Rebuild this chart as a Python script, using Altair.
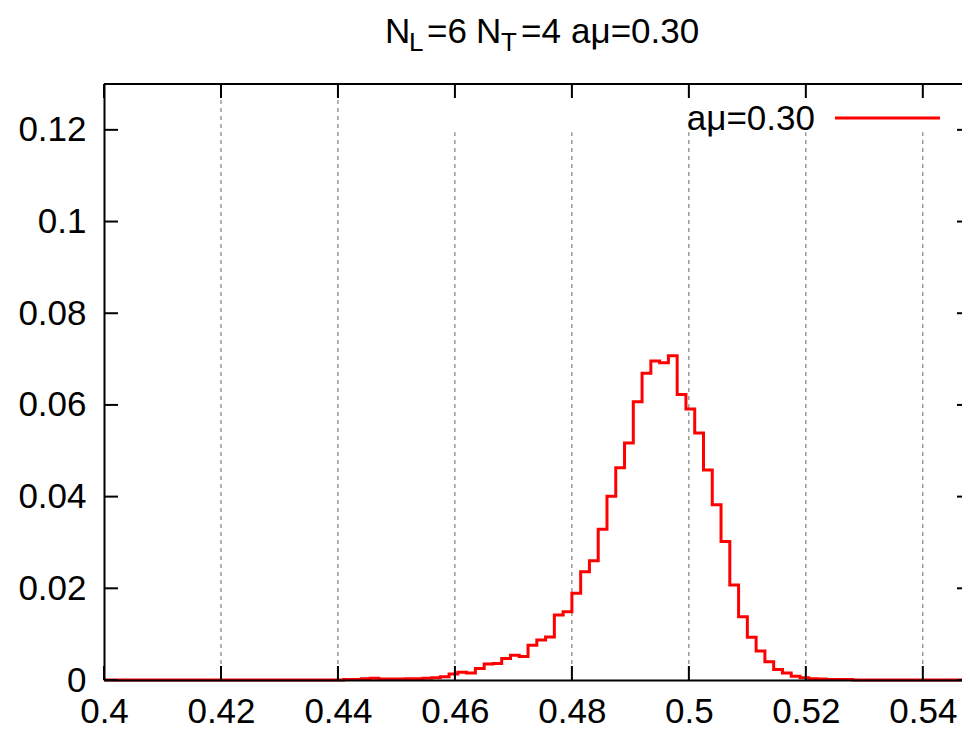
import altair as alt
import pandas as pd

# ---------------- data ----------------
# left edges of the histogram bins (width 0.0015); first/last entries pad the zero baseline
bin_edges = [
    0.4000, 0.4395, 0.4410, 0.4425, 0.4440, 0.4455, 0.4470, 0.4485, 0.4500, 0.4515,
    0.4530, 0.4545, 0.4560, 0.4575, 0.4590, 0.4605, 0.4620, 0.4635, 0.4650, 0.4665,
    0.4680, 0.4695, 0.4710, 0.4725, 0.4740, 0.4755, 0.4770, 0.4785, 0.4800, 0.4815,
    0.4830, 0.4845, 0.4860, 0.4875, 0.4890, 0.4905, 0.4920, 0.4935, 0.4950, 0.4965,
    0.4980, 0.4995, 0.5010, 0.5025, 0.5040, 0.5055, 0.5070, 0.5085, 0.5100, 0.5115,
    0.5130, 0.5145, 0.5160, 0.5175, 0.5190, 0.5205, 0.5220, 0.5235, 0.5250, 0.5265,
    0.5280, 0.5495,
]
probability = [
    0.0000, 0.0000, 0.0001, 0.0001, 0.0003, 0.0004, 0.0002, 0.0002, 0.0002, 0.0003,
    0.0003, 0.0004, 0.0005, 0.0007, 0.0013, 0.0017, 0.0015, 0.0025, 0.0035, 0.0036,
    0.0047, 0.0054, 0.0051, 0.0076, 0.0087, 0.0094, 0.0142, 0.0149, 0.0189, 0.0236,
    0.0260, 0.0329, 0.0401, 0.0463, 0.0517, 0.0607, 0.0669, 0.0696, 0.0692, 0.0707,
    0.0623, 0.0591, 0.0539, 0.0458, 0.0382, 0.0302, 0.0207, 0.0138, 0.0093, 0.0063,
    0.0040, 0.0023, 0.0015, 0.0008, 0.0005, 0.0003, 0.0002, 0.0001, 0.0001, 0.0001,
    0.0000, 0.0000,
]
x_tick_values = [0.40, 0.42, 0.44, 0.46, 0.48, 0.50, 0.52, 0.54]
y_tick_values = [0.00, 0.02, 0.04, 0.06, 0.08, 0.10, 0.12]
grid_values = [0.42, 0.44, 0.46, 0.48, 0.50, 0.52, 0.54]
key_box_x = [0.45]
key_box_y = [0.1195]
key_label = "aμ=0.30"
title_main = ["N", "=6", "N", "=4", "aμ=0.30"]
title_subs = ["L", "T"]

# ---------------- layout ----------------
W, H = 858, 596
FONT = "Liberation Sans"
FS = 35
SUB_FS = 26
RED = "#ff0000"

xs = alt.Scale(domain=[0.4, 0.5467], nice=False, zero=False)
ys = alt.Scale(domain=[0.0, 0.13], nice=False, zero=False)

hist = pd.DataFrame({"x": bin_edges, "y": probability})
one = pd.DataFrame({"d": [0]})
xt = pd.DataFrame({"x": x_tick_values})
yt = pd.DataFrame({"y": y_tick_values})
gd = pd.DataFrame({"x": grid_values})
kb = pd.DataFrame({"x": key_box_x, "y": key_box_y})

axis_style = dict(title=None, format=".2~f", ticks=False, grid=False, zindex=1,
                  labelFlush=False, labelOverlap=False,
                  labelFont=FONT, labelFontSize=FS, labelColor="black",
                  domainColor="black", domainWidth=2)
x_axis = alt.Axis(values=x_tick_values, labelPadding=14, **axis_style)
y_axis = alt.Axis(values=y_tick_values, labelPadding=18, **axis_style)

X = alt.X("x:Q", scale=xs, axis=x_axis)
Y = alt.Y("y:Q", scale=ys, axis=y_axis)

grid = alt.Chart(gd).mark_rule(color="#666666", strokeWidth=1, strokeDash=[4, 4]).encode(
    x=X, y=alt.value(0), y2=alt.value(H))

keybox = alt.Chart(kb).mark_rect(color="white").encode(
    x=X, x2=alt.value(W), y=Y, y2=alt.value(0))

line = alt.Chart(hist).mark_line(
    interpolate="step-after", color=RED, strokeWidth=3
).encode(x=X, y=Y)

TL = 14
tick_style = dict(color="black", strokeWidth=2)
bottom_ticks = alt.Chart(xt).mark_rule(**tick_style).encode(
    x=X, y=alt.value(H), y2=alt.value(H - TL))
top_ticks = alt.Chart(xt).mark_rule(**tick_style).encode(
    x=X, y=alt.value(0), y2=alt.value(TL))
left_ticks = alt.Chart(yt).mark_rule(**tick_style).encode(
    y=Y, x=alt.value(0), x2=alt.value(TL))
right_ticks = alt.Chart(yt).mark_rule(**tick_style).encode(
    y=Y, x=alt.value(W - 5), x2=alt.value(W))
top_border = alt.Chart(one).mark_rule(color="black", strokeWidth=2).encode(
    x=alt.value(0), x2=alt.value(W), y=alt.value(0))

key_text = alt.Chart(one).mark_text(
    text=key_label, align="right", baseline="alphabetic", font=FONT, fontSize=FS, color="black"
).encode(x=alt.value(711), y=alt.value(46))
key_line = alt.Chart(one).mark_rule(color=RED, strokeWidth=3).encode(
    x=alt.value(731), x2=alt.value(836), y=alt.value(34))

def txt(s, x, y, size):
    return alt.Chart(one).mark_text(
        text=s, align="left", baseline="alphabetic", font=FONT, fontSize=size, color="black"
    ).encode(x=alt.value(x), y=alt.value(y))

title_layers = [
    txt(title_main[0], 281, -41, FS),
    txt(title_subs[0], 305, -33, SUB_FS),
    txt(title_main[1], 323, -41, FS),
    txt(title_main[2], 372, -41, FS),
    txt(title_subs[1], 397, -33, SUB_FS),
    txt(title_main[3], 417, -41, FS),
    txt(title_main[4], 467, -41, FS),
]

chart = alt.layer(
    grid, keybox, line, bottom_ticks, top_ticks, left_ticks, right_ticks, top_border,
    key_line, key_text, *title_layers
).properties(
    width=W, height=H,
    padding={"left": 96, "top": 76, "right": 0, "bottom": 43},
    autosize=alt.AutoSizeParams(type="none"),
).configure_view(stroke="transparent")

chart.save("out.html", embed_options={"renderer": "svg", "actions": False})
